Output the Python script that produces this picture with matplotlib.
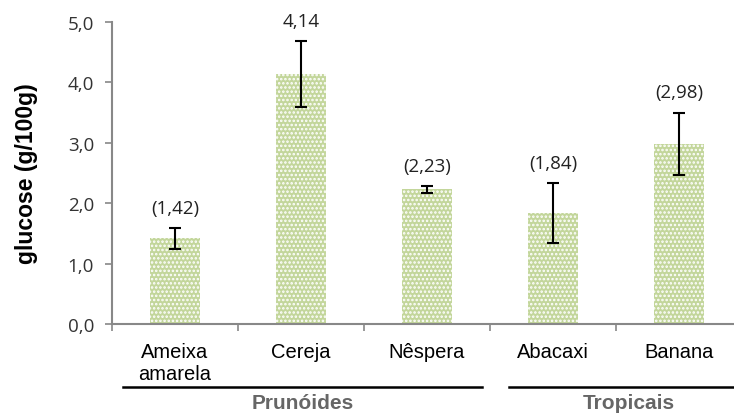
import matplotlib
matplotlib.use("Agg")
import matplotlib.pyplot as plt
import numpy as np

categories = ["Ameixa\namarela", "Cereja", "Nêspera", "Abacaxi", "Banana"]
values = [1.42, 4.14, 2.23, 1.84, 2.98]
errors = [0.17, 0.54, 0.06, 0.50, 0.52]
value_labels = ["(1,42)", "4,14", "(2,23)", "(1,84)", "(2,98)"]
groups = ["Prunóides", "Tropicais"]
group_spans = [(-0.41, 2.44), (2.65, 4.55)]
yticks = [0.0, 1.0, 2.0, 3.0, 4.0, 5.0]
ytick_labels = ["0,0", "1,0", "2,0", "3,0", "4,0", "5,0"]

plt.rcParams['hatch.linewidth'] = 1.2
fig = plt.figure(figsize=(7.34, 4.14), dpi=100)
ax = fig.add_axes([112/734, 1-325/414, 630/734, (325-23)/414])

x = np.arange(len(categories))
ax.bar(x, values, width=0.4, color="#c3d69b", edgecolor="white", hatch="....", linewidth=0)
ax.errorbar(x, values, yerr=errors, fmt="none", ecolor="black", elinewidth=1.5, capsize=4, capthick=1.5)

for xi, v, e, lab in zip(x, values, errors, value_labels):
    ax.text(xi, v + e + 0.25, lab, ha="center", va="baseline", fontsize=13.5,
            family="Open Sans", color="#222222")

ax.set_xlim(-0.5, len(categories) - 0.5)
ax.set_ylim(0, 5)
ax.set_yticks(yticks)
ax.set_yticklabels(ytick_labels, family="Open Sans", fontsize=13.5, color="#333333")
ax.set_xticks(x)
ax.set_xticklabels(categories, family="Liberation Sans", fontsize=14.5, linespacing=1.2)
ax.tick_params(axis="x", length=0, pad=13)
ax.set_xticks(np.arange(len(categories) + 1) - 0.5, minor=True)
ax.tick_params(axis="x", which="minor", length=5, color="#888888", width=1.2)
ax.tick_params(axis="y", length=5, color="#888888", width=1.2, pad=8)

for s in ["top", "right"]:
    ax.spines[s].set_visible(False)
for s in ["left", "bottom"]:
    ax.spines[s].set_color("#888888")
    ax.spines[s].set_linewidth(1.5)

ax.set_ylabel("glucose (g/100g)", fontsize=16.5, fontweight="bold", family="Liberation Sans")
ax.yaxis.set_label_coords(-0.118, 0.5)

trans = ax.get_xaxis_transform()
for name, (a, b) in zip(groups, group_spans):
    ax.plot([a, b], [-63/302, -63/302], transform=trans, color="black", lw=1.8, clip_on=False)
    ax.text((a + b) / 2, -84/302, name, transform=trans, ha="center", va="baseline", fontsize=15,
            fontweight="bold", family="Liberation Sans", color="#666666")

fig.savefig("out.png", dpi=100)
